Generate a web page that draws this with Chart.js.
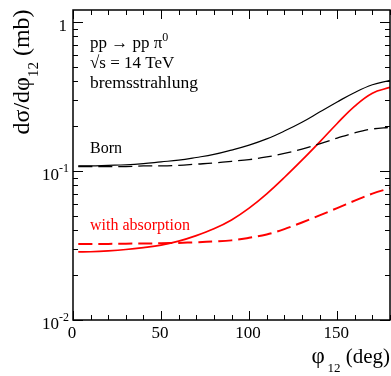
<!DOCTYPE html>
<html>
<head>
<meta charset="utf-8">
<script src="https://cdn.jsdelivr.net/npm/chart.js@4"></script>
<style>
  html, body { margin: 0; padding: 0; background: #fff; }
  #chart { display: block; }
</style>
</head>
<body>
<canvas id="chart" width="391" height="376"></canvas>
<script>
// phi_12 in degrees
const phi = [3, 10, 20, 30, 40, 50, 60, 70, 80, 90, 100, 110, 120, 130, 140, 150, 160, 170, 180];

// d sigma / d phi_12 (mb)
const bornSolid = [0.108, 0.108, 0.109, 0.110, 0.112, 0.115, 0.118, 0.123, 0.129, 0.138, 0.149, 0.164, 0.185, 0.212, 0.248, 0.290, 0.336, 0.378, 0.405];
const bornDashed = [0.107, 0.107, 0.107, 0.107, 0.108, 0.108, 0.109, 0.111, 0.113, 0.116, 0.119, 0.124, 0.131, 0.140, 0.152, 0.166, 0.180, 0.191, 0.196];
const absSolid = [0.0286, 0.0287, 0.0291, 0.0297, 0.0306, 0.0318, 0.0338, 0.0368, 0.0409, 0.0469, 0.0563, 0.0702, 0.0903, 0.118, 0.156, 0.208, 0.272, 0.332, 0.363];
const absDashed = [0.0324, 0.0324, 0.0324, 0.0325, 0.0326, 0.0327, 0.0329, 0.0332, 0.0336, 0.0342, 0.0356, 0.0375, 0.0407, 0.0451, 0.0503, 0.0563, 0.0632, 0.0704, 0.0767];

const xMajor = [0, 50, 100, 150];
const xMinorStep = 10;
const yDecades = [0.01, 0.1, 1];
const yDecadeExp = ["-2", "-1", ""];

const SERIF = "'Liberation Serif', 'DejaVu Serif', serif";

function pts(ys) {
  return phi.map((x, i) => ({ x, y: ys[i] }));
}

function line(data, color, width, dash) {
  return {
    data: pts(data),
    borderColor: color,
    borderWidth: width,
    borderDash: dash,
    pointRadius: 0,
    fill: false,
    tension: 0.4
  };
}

// text with a subscript / superscript part
function textParts(ctx, parts, x, y, align) {
  let total = 0;
  parts.forEach(p => {
    ctx.font = p.size + "px " + SERIF;
    p.w = ctx.measureText(p.t).width;
    total += p.w;
  });
  let cx = align === "right" ? x - total : align === "center" ? x - total / 2 : x;
  parts.forEach(p => {
    ctx.font = p.size + "px " + SERIF;
    ctx.fillText(p.t, cx, y + (p.dy || 0));
    cx += p.w;
  });
}

const frame = {
  id: "frame",
  afterDraw(chart) {
    const ctx = chart.ctx;
    const a = chart.chartArea;
    const xs = chart.scales.x;
    const ys = chart.scales.y;
    ctx.save();
    ctx.strokeStyle = "#000";
    ctx.fillStyle = "#000";
    ctx.lineWidth = 1.5;
    ctx.strokeRect(a.left, a.top, a.right - a.left, a.bottom - a.top);

    ctx.lineWidth = 1;
    ctx.beginPath();
    // x ticks, bottom and top, pointing inward
    for (let v = 0; v <= 180; v += xMinorStep) {
      const px = Math.round(xs.getPixelForValue(v)) + 0.5;
      const len = xMajor.includes(v) ? 9 : 5;
      ctx.moveTo(px, a.bottom); ctx.lineTo(px, a.bottom - len);
      ctx.moveTo(px, a.top); ctx.lineTo(px, a.top + len);
    }
    // y ticks, left and right
    yDecades.forEach(d => {
      for (let m = 1; m <= 9; m++) {
        const v = d * m;
        if (v > ys.max + 1e-9) break;
        const py = Math.round(ys.getPixelForValue(v)) + 0.5;
        const len = m === 1 ? 10 : 5;
        ctx.moveTo(a.left, py); ctx.lineTo(a.left + len, py);
        ctx.moveTo(a.right, py); ctx.lineTo(a.right - len, py);
      }
    });
    ctx.stroke();

    // x tick labels
    ctx.textBaseline = "alphabetic";
    ctx.font = "17px " + SERIF;
    ctx.textAlign = "center";
    xMajor.forEach(v => {
      ctx.fillText(String(v), xs.getPixelForValue(v) - 1, a.bottom + 18);
    });

    // y tick labels
    ctx.textAlign = "left";
    yDecades.forEach((d, i) => {
      const py = ys.getPixelForValue(d) + 9;
      if (yDecadeExp[i] === "") {
        textParts(ctx, [{ t: "1", size: 17 }], a.left - 6, py, "right");
      } else {
        textParts(ctx, [
          { t: "10", size: 17 },
          { t: yDecadeExp[i], size: 12, dy: -8 }
        ], a.left - 4, py, "right");
      }
    });

    // axis titles
    textParts(ctx, [
      { t: "\u03c6", size: 23 },
      { t: "\u2009", size: 13 },
      { t: "12", size: 13, dy: 9 },
      { t: " (deg)", size: 21 }
    ], a.right, 363, "right");

    ctx.save();
    ctx.translate(29, 72);
    ctx.rotate(-Math.PI / 2);
    textParts(ctx, [
      { t: "d\u03c3/d\u03c6", size: 24 },
      { t: "12", size: 15, dy: 9 },
      { t: " (mb)", size: 24 }
    ], 0, 0, "center");
    ctx.restore();

    // annotations
    textParts(ctx, [
      { t: "pp \u2192 pp \u03c0", size: 17 },
      { t: "0", size: 12, dy: -7 }
    ], 90, 48, "left");
    textParts(ctx, [{ t: "\u221as = 14 TeV", size: 17 }], 90, 68, "left");
    textParts(ctx, [{ t: "bremsstrahlung", size: 17.5 }], 90, 88, "left");
    textParts(ctx, [{ t: "Born", size: 16 }], 90, 153, "left");
    ctx.fillStyle = "#ff0000";
    textParts(ctx, [{ t: "with absorption", size: 16 }], 90, 230, "left");
    ctx.restore();
  }
};

new Chart(document.getElementById("chart"), {
  type: "line",
  data: {
    datasets: [
      line(bornSolid, "#000000", 1.2, []),
      line(bornDashed, "#000000", 1.3, [14, 6]),
      line(absSolid, "#ff0000", 1.7, []),
      line(absDashed, "#ff0000", 2, [14, 6])
    ]
  },
  options: {
    responsive: false,
    animation: false,
    layout: { padding: { left: 73, right: 1, top: 10, bottom: 56 } },
    plugins: { legend: { display: false }, tooltip: { enabled: false } },
    scales: {
      x: { type: "linear", min: 0, max: 180, display: false },
      y: { type: "logarithmic", min: 0.01, max: 1.2, display: false }
    }
  },
  plugins: [frame]
});
</script>
</body>
</html>
